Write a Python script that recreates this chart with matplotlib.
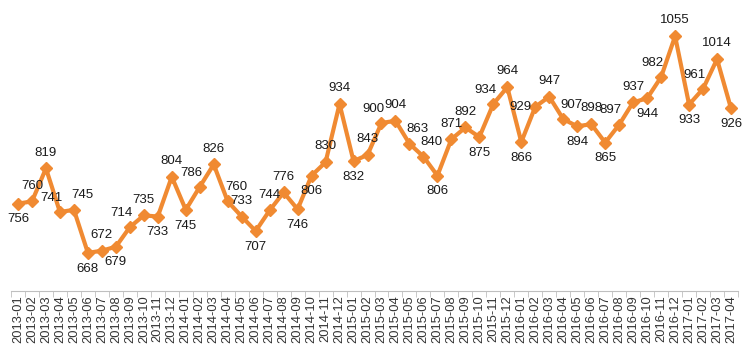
import numpy as np
import matplotlib.pyplot as plt

plt.rcParams['font.family'] = ['Liberation Sans', 'DejaVu Sans']

months = ['2013-01', '2013-02', '2013-03', '2013-04', '2013-05', '2013-06', '2013-07', '2013-08',
          '2013-09', '2013-10', '2013-11', '2013-12', '2014-01', '2014-02', '2014-03', '2014-04',
          '2014-05', '2014-06', '2014-07', '2014-08', '2014-09', '2014-10', '2014-11', '2014-12',
          '2015-01', '2015-02', '2015-03', '2015-04', '2015-05', '2015-06', '2015-07', '2015-08',
          '2015-09', '2015-10', '2015-11', '2015-12', '2016-01', '2016-02', '2016-03', '2016-04',
          '2016-05', '2016-06', '2016-07', '2016-08', '2016-09', '2016-10', '2016-11', '2016-12',
          '2017-01', '2017-02', '2017-03', '2017-04']
values = [756, 760, 819, 741, 745, 668, 672, 679, 714, 735, 733, 804, 745, 786, 826, 760,
          733, 707, 744, 776, 746, 806, 830, 934, 832, 843, 900, 904, 863, 840, 806, 871,
          892, 875, 934, 964, 866, 929, 947, 907, 894, 898, 865, 897, 937, 944, 982, 1055,
          933, 961, 1014, 926]
# label placement: a=above, b=below, al=above-left, ar=above-right, l=left
label_pos = ['b', 'a', 'a', 'al', 'ar', 'b', 'a', 'b', 'al', 'a', 'b', 'a', 'b', 'al', 'a', 'ar',
             'a', 'b', 'a', 'a', 'b', 'b', 'a', 'a', 'b', 'a', 'al', 'a', 'ar', 'ar', 'b', 'a',
             'a', 'b', 'al', 'a', 'b', 'l', 'a', 'ar', 'b', 'a', 'b', 'al', 'a', 'b', 'al', 'a',
             'b', 'al', 'a', 'b']

orange = '#F08A32'
x = np.arange(len(values))

fig = plt.figure(figsize=(7.5, 3.48), dpi=100)
ax = fig.add_axes([11 / 750, 57 / 348, 727 / 750, 280 / 348])
ax.plot(x, values, color=orange, lw=3, marker='D', ms=6, mec=orange, mfc=orange)

offsets = {'a': (0, 7, 'center', 'bottom'), 'b': (0, -7, 'center', 'top'),
           'al': (-6, 6, 'center', 'bottom'), 'ar': (6, 6, 'center', 'bottom'),
           'l': (-3, 0, 'right', 'center')}
for xi, v, p in zip(x, values, label_pos):
    dx, dy, ha, va = offsets[p]
    ax.annotate(str(v), (xi, v), xytext=(dx, dy), textcoords='offset points',
                ha=ha, va=va, fontsize=9.5, color='#1a1a1a')

ax.set_xlim(-0.5, len(values) - 0.5)
ax.set_ylim(600, 1100)
ax.set_xticks(x)
ax.set_xticklabels(months, rotation=90, fontsize=9.3, color='#333333')
ax.tick_params(axis='x', which='major', length=0, pad=3)
ax.set_xticks(np.arange(-0.5, len(values), 1), minor=True)
ax.tick_params(axis='x', which='minor', length=4, color='#BFBFBF')
ax.set_yticks([])
for s in ['top', 'right', 'left']:
    ax.spines[s].set_visible(False)
ax.spines['bottom'].set_color('#BFBFBF')

plt.savefig('out.png', dpi=100)
